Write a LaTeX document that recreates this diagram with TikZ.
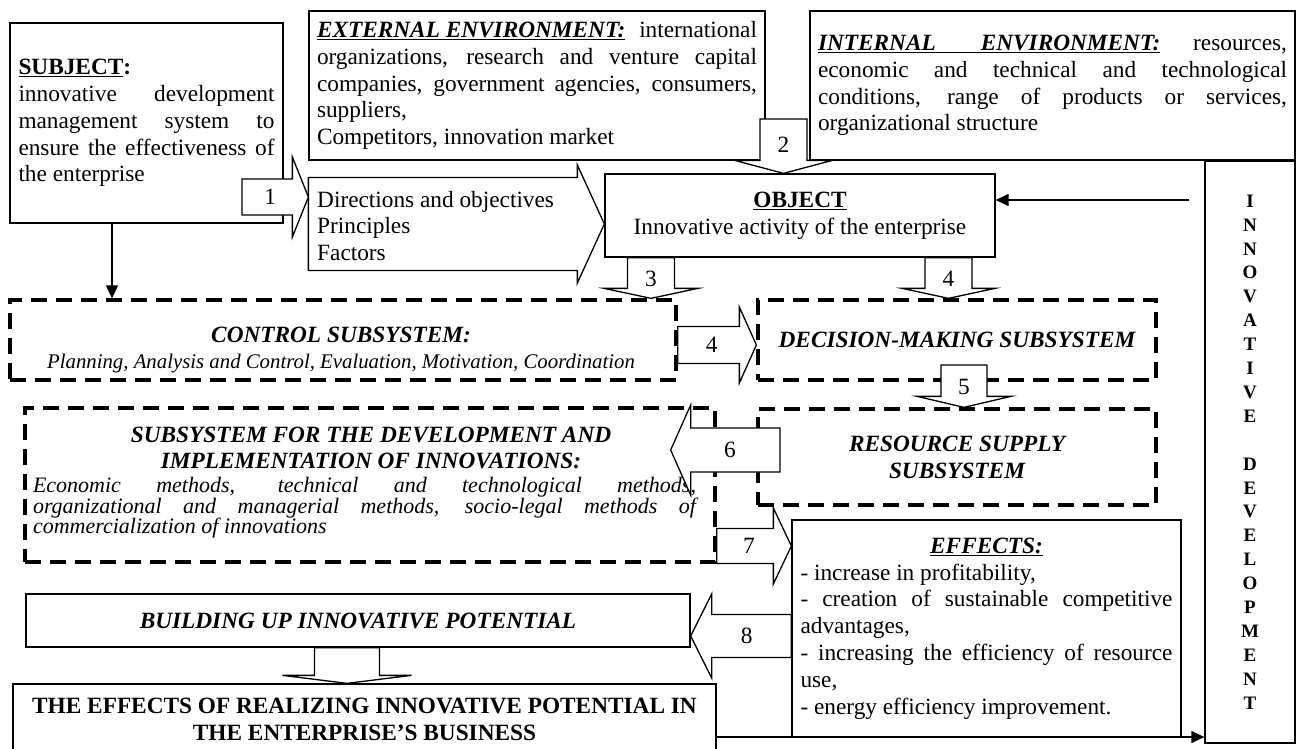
\documentclass[tikz,border=0pt]{standalone}
\usepackage{fontspec}
\setmainfont{Liberation Serif}
\usetikzlibrary{calc,arrows.meta}
\hyphenpenalty=10000
\exhyphenpenalty=10000

\tikzset{
  box/.style={draw, line width=1.3pt, inner sep=0pt},
  dbox/.style={draw, line width=3.3pt, dash pattern=on 16pt off 9pt, inner sep=0pt},
  barrow/.style={draw, fill=white, line width=1.3pt},
  num/.style={inner sep=0pt},
  tip/.style={line width=1.3pt, -{Triangle[length=13pt,width=12pt]}},
  bi/.style={font=\bfseries\itshape\fontsize{23.3}{26.8}\selectfont},
}

% tail, tip, half shaft, half head, head length, label place, label
\newcommand\blockarrow[7]{%
  \coordinate (hb) at ($(#2)!#5pt!(#1)$);
  \draw[barrow] ($(#1)!#3pt!90:(#2)$) -- ($(hb)!#3pt!90:(#2)$) -- ($(hb)!#4pt!90:(#2)$) -- (#2)
    -- ($(hb)!#4pt!-90:(#2)$) -- ($(hb)!#3pt!-90:(#2)$) -- ($(#1)!#3pt!-90:(#2)$) -- cycle;
  \node[num] at ($(#1)!#6!(hb)$) {#7};
}

\begin{document}
\begin{tikzpicture}[x=1pt, y=-1pt, every node/.style={font=\fontsize{23.3}{26.8}\selectfont}]
\useasboundingbox (0,0) rectangle (1303,749);

\node[box, minimum width=273pt, minimum height=200pt, text width=256pt, align=justify] (sub) at (146.5,123)
  {\textbf{\underline{SUBJECT}:}\\ innovative development\linebreak management system to\linebreak ensure the effectiveness of\linebreak the enterprise};
\node[box, minimum width=456pt, minimum height=149pt, text width=440pt, align=justify] (ext) at (537,85.5)
  {\underline{\textbf{\textit{EXTERNAL ENVIRONMENT:}}} international\linebreak organizations, research and venture capital\linebreak companies, government agencies, consumers,\linebreak suppliers,\\ Competitors, innovation market};
\node[box, minimum width=485pt, minimum height=149pt, text width=469pt, align=justify] (int) at (1052.5,85.5)
  {\underline{\textbf{\textit{INTERNAL\hspace{45pt}ENVIRONMENT:}}} resources,\linebreak economic and technical and technological\linebreak conditions, range of products or services,\linebreak organizational structure};
\node[box, minimum width=390pt, minimum height=83pt, align=center] (obj) at (800,215.5)
  {\textbf{\underline{OBJECT}}\\ Innovative activity of the enterprise};
\node[box, minimum width=90pt, minimum height=582pt, align=center, font=\bfseries\fontsize{19}{23.9}\selectfont] (col) at (1250,452)
  {I\\N\\N\\O\\V\\A\\T\\I\\V\\E\\[23.9pt]D\\E\\V\\E\\L\\O\\P\\M\\E\\N\\T};

\node[dbox, minimum width=666pt, minimum height=80pt] (ctrl) at (343,340) {};
\node[align=center] (ctrlt) at (341,350)
  {\textbf{\textit{CONTROL SUBSYSTEM:}}\\ {\itshape\fontsize{20.8}{26.8}\selectfont Planning, Analysis and Control, Evaluation, Motivation, Coordination}};
\node[dbox, bi, minimum width=398pt, minimum height=80pt] (dec) at (957,340) {DECISION-MAKING SUBSYSTEM};
\node[dbox, minimum width=690pt, minimum height=154pt] (dev) at (370,485) {};
\node[bi, align=center] (devt) at (371,448) {SUBSYSTEM FOR THE DEVELOPMENT AND\\ IMPLEMENTATION OF INNOVATIONS:};
\node[text width=663pt, align=justify, font=\itshape\fontsize{22}{20.5}\selectfont] (devb) at (364.5,508)
  {Economic methods, technical and technological methods,\linebreak organizational and managerial methods, socio-legal methods of\linebreak commercialization of innovations};
\node[dbox, bi, minimum width=398pt, minimum height=96pt, align=center] (res) at (957,457) {RESOURCE SUPPLY\\ SUBSYSTEM};

\node[box, minimum width=389pt, minimum height=217pt, text width=372pt, align=justify] (eff) at (986.5,628.5)
  {\makebox[372pt]{\underline{\textbf{\textit{EFFECTS:}}}}\\ - increase in profitability,\\ - creation of sustainable competitive\linebreak advantages,\\ - increasing the efficiency of resource\linebreak use,\\ - energy efficiency improvement.};
\node[box, bi, minimum width=664pt, minimum height=53pt] (bld) at (358,620.5) {BUILDING UP INNOVATIVE POTENTIAL};
\node[box, minimum width=703pt, minimum height=71pt, align=center, font=\bfseries\fontsize{23.3}{26.8}\selectfont] (eef) at (364.5,719.5)
  {THE EFFECTS OF REALIZING INNOVATIVE POTENTIAL IN\\ THE ENTERPRISE’S BUSINESS};

\coordinate (ds) at (ext.west |- 0,224);
\coordinate (de) at (obj.west |- ds);
\blockarrow{ds}{de}{46.5}{59}{27}{0.5}{}
\node[anchor=west, align=left, inner sep=0pt] (dir) at (317,226) {Directions and objectives\\ Principles\\ Factors};

\coordinate (a1s) at (242,197);
\coordinate (a1e) at (ds |- a1s);
\blockarrow{a1s}{a1e}{18}{40}{16}{0.56}{1}
\coordinate (a2s) at (783.5,119);
\coordinate (a2e) at (a2s |- obj.north);
\blockarrow{a2s}{a2e}{23.5}{49}{13}{0.63}{2}
\coordinate (a3s) at (651,0 |- obj.south);
\coordinate (a3e) at (a3s |- ctrl.north);
\blockarrow{a3s}{a3e}{23.5}{47}{10}{0.7}{3}
\coordinate (a4s) at (948.5,0 |- obj.south);
\coordinate (a4e) at (a4s |- dec.north);
\blockarrow{a4s}{a4e}{23.5}{46.5}{10}{0.7}{4}
\coordinate (b4s) at (ctrl.east |- 0,345);
\coordinate (b4e) at (dec.west |- b4s);
\blockarrow{b4s}{b4e}{18.5}{38}{17}{0.55}{4}
\coordinate (a5s) at (964,365);
\coordinate (a5e) at (a5s |- res.north);
\blockarrow{a5s}{a5e}{23}{47}{11}{0.69}{5}
\coordinate (a6s) at (780,450);
\coordinate (a6e) at ($(dev.east |- a6s)+(-46,0)$);
\blockarrow{a6s}{a6e}{22}{45}{20}{0.56}{6}
\coordinate (a7s) at (dev.east |- 0,546);
\coordinate (a7e) at (eff.west |- a7s);
\blockarrow{a7s}{a7e}{17.5}{38}{18}{0.57}{7}
\coordinate (a8s) at (eff.west |- 0,636);
\coordinate (a8e) at (bld.east |- a8s);
\blockarrow{a8s}{a8e}{21.5}{42}{21}{0.56}{8}
\coordinate (a9s) at (347,0 |- bld.south);
\coordinate (a9e) at (a9s |- eef.north);
\blockarrow{a9s}{a9e}{32.5}{64.5}{8}{0.5}{}

\draw[tip] (112,0 |- sub.south) -- (112,0 |- ctrl.north);
\draw[tip] ($(col.west |- 0,200)+(-15,0)$) -- (obj.east |- 0,200);
\draw[tip] (eef.east |- 0,737) -- (col.west |- 0,737);
\end{tikzpicture}
\end{document}
